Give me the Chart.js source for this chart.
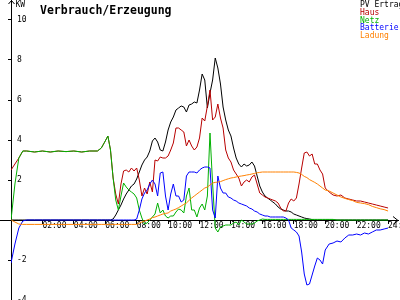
<!DOCTYPE html>
<html>
<head>
<meta charset="utf-8">
<script src="https://cdn.jsdelivr.net/npm/chart.js@4/dist/chart.umd.min.js"></script>
<style>
  html, body { margin: 0; padding: 0; background: #fff; }
  #wrap { width: 400px; height: 300px; }
</style>
</head>
<body>
<div id="wrap"><canvas id="chart" width="400" height="300"></canvas></div>
<script>
// minutes of the day
const times = [0, 15, 30, 45, 60, 90, 120, 150, 180, 210, 240, 270, 300, 330, 345,
  360, 370, 380, 390, 400, 410, 420, 430, 440, 450,
  460, 470, 480, 490, 500, 510, 520, 530, 540, 550,
  560, 570, 580, 590, 600, 610, 620, 630, 640, 650,
  660, 670, 680, 690, 700, 710, 720, 730, 740, 750,
  760, 770, 780, 790, 800, 810, 820, 830, 840, 850,
  860, 870, 880, 890, 900, 910, 920, 930, 940, 950,
  960, 970, 980, 990, 1000, 1010, 1020, 1030, 1040, 1050,
  1060, 1070, 1080, 1090, 1100, 1110, 1120, 1130, 1140, 1150,
  1160, 1170, 1180, 1190, 1200,
  1215, 1230, 1245, 1260, 1275, 1290, 1305, 1320, 1335, 1350, 1365, 1380, 1395, 1410, 1425, 1440];

const pvErtrag = [0, 0, 0, 0, 0, 0, 0, 0, 0, 0, 0, 0, 0, 0, 0,
  0, 0, 0, 0.05, 0.25, 0.5, 0.75, 1.05, 1.3, 1.5,
  1.7, 1.8, 2.05, 2.4, 2.75, 3.0, 3.15, 3.45, 3.95, 4.1,
  3.9, 3.5, 3.45, 3.9, 4.5, 4.9, 5.15, 5.5, 5.6, 5.7,
  5.65, 5.4, 5.75, 5.8, 5.9, 5.85, 6.5, 7.3, 7.0, 5.6,
  6.35, 7.0, 8.1, 7.6, 6.8, 5.65, 5.0, 4.5, 4.2, 3.6,
  3.1, 2.8, 2.65, 2.8, 2.7, 2.75, 2.9, 2.7, 2.2, 1.7,
  1.4, 1.2, 1.1, 1.0, 0.9, 0.8, 0.65, 0.55, 0.5, 0.45,
  0.45, 0.4, 0.3, 0.25, 0.2, 0.15, 0.1, 0.07, 0.05, 0.02,
  0, 0, 0, 0, 0,
  0, 0, 0, 0, 0, 0, 0, 0, 0, 0, 0, 0, 0, 0, 0, 0];

const haus = [2.5, 2.8, 3.1, 3.45, 3.45, 3.4, 3.45, 3.4, 3.45, 3.42, 3.45, 3.4, 3.45, 3.45, 3.6,
  3.95, 4.2, 3.5, 2.1, 1.3, 0.8, 1.8, 2.45, 2.5, 2.4,
  2.6, 2.45, 2.6, 2.0, 1.2, 1.6, 1.3, 1.9, 1.4, 3.0,
  2.95, 3.15, 3.1, 3.1, 3.2, 3.5, 3.85, 4.6, 4.6, 4.5,
  4.4, 3.7, 4.0, 3.7, 3.5, 3.65, 4.1, 5.1, 4.95, 5.7,
  6.5, 5.0, 5.15, 5.8, 5.1, 4.6, 3.5, 3.1, 2.9, 2.5,
  2.3, 2.1, 1.7, 1.9, 2.0, 1.9, 2.15, 2.25, 1.8, 1.35,
  1.25, 1.15, 1.1, 1.05, 1.0, 0.95, 0.85, 0.6, 0.45, 0.45,
  0.85, 1.05, 0.95, 1.1, 1.8, 2.6, 3.35, 3.4, 3.2, 3.3,
  2.8, 2.8, 2.5, 2.3, 1.6,
  1.4, 1.25, 1.2, 1.25, 1.1, 1.05, 1.0, 0.95, 0.95, 0.9, 0.85, 0.8, 0.75, 0.7, 0.65, 0.6];

const netz = [0, 1.8, 3.1, 3.45, 3.45, 3.4, 3.45, 3.4, 3.45, 3.42, 3.45, 3.4, 3.45, 3.45, 3.6,
  3.95, 4.2, 3.5, 2.1, 1.0, 0.5, 1.2, 1.85, 1.65, 1.5,
  1.4, 1.3, 1.1, 0.5, 0.1, -0.2, -0.15, 0.0, 0.15, 0.3,
  0.85, 0.35, 0.5, 0.2, 0.1, 0.2, 0.2, 0.4, 0.55, 0.5,
  0.35, 1.2, 1.6, 0.5, 0.5, 0.15, 0.6, 0.8, 0.5, 1.2,
  4.35, 1.8, -0.4, -0.6, -0.35, -0.3, -0.25, -0.25, -0.25, -0.15,
  -0.1, -0.25, 0.0, -0.1, -0.2, -0.2, -0.2, -0.15, -0.05, 0.0,
  0.05, 0.03, 0.03, 0.03, 0.03, 0.03, 0.03, 0.03, 0.03, 0.03,
  0.03, 0.03, 0.03, 0.03, 0.03, 0.03, 0.03, 0.03, 0.03, 0.03,
  0.03, 0.03, 0.03, 0.03, 0.03,
  0.03, 0.03, 0, 0, 0, 0, 0, 0, 0, 0, 0, 0, 0, 0, 0, 0];

const batterie = [-2.15, -1.2, -0.4, -0.05, 0, 0, 0, 0, 0, 0, 0, 0, 0, 0, 0,
  0, 0, 0, 0, 0, 0, 0, 0, 0, 0,
  0, 0, 0.05, 0.5, 1.05, 1.35, 1.5, 1.8, 2.0, 1.8,
  1.2, 2.35, 2.4, 1.2, 0.5, 1.3, 1.8, 1.2, 1.2, 0.9,
  1.0, 2.2, 2.4, 2.4, 2.4, 2.35, 2.5, 2.6, 2.65, 2.65,
  2.6, 0.5, 0.1, 2.2, 1.6, 1.35, 1.35, 1.15, 1.1, 1.0,
  0.95, 0.85, 0.8, 0.75, 0.7, 0.6, 0.55, 0.45, 0.4, 0.3,
  0.25, 0.2, 0.2, 0.15, 0.15, 0.15, 0.15, 0.15, 0.15, 0.1,
  0.0, -0.4, -0.5, -0.6, -0.8, -1.6, -2.7, -3.25, -3.2, -2.75,
  -2.3, -1.9, -2.0, -2.2, -1.5,
  -1.2, -1.15, -1.05, -1.1, -0.9, -0.75, -0.75, -0.7, -0.75, -0.65, -0.7, -0.6, -0.5, -0.5, -0.45, -0.4];

const ladung = [0, -0.1, -0.2, -0.22, -0.22, -0.22, -0.22, -0.22, -0.22, -0.22, -0.22, -0.22, -0.22, -0.22, -0.22,
  -0.22, -0.22, -0.22, -0.22, -0.22, -0.22, -0.22, -0.22, -0.22, -0.22,
  -0.22, -0.22, -0.22, -0.15, -0.1, -0.05, 0.0, 0.05, 0.12, 0.15,
  0.2, 0.25, 0.3, 0.33, 0.35, 0.45, 0.5, 0.55, 0.62, 0.7,
  0.78, 0.85, 0.98, 1.1, 1.2, 1.3, 1.4, 1.5, 1.6, 1.65,
  1.75, 1.85, 1.88, 1.9, 1.92, 1.97, 2.02, 2.06, 2.1, 2.12,
  2.15, 2.18, 2.2, 2.22, 2.25, 2.27, 2.3, 2.33, 2.36, 2.38,
  2.4, 2.4, 2.4, 2.4, 2.4, 2.4, 2.4, 2.4, 2.4, 2.4,
  2.4, 2.4, 2.4, 2.38, 2.35, 2.28, 2.18, 2.12, 2.02, 1.95,
  1.88, 1.8, 1.7, 1.6, 1.5,
  1.45, 1.35, 1.25, 1.15, 1.08, 1.02, 0.97, 0.88, 0.85, 0.82, 0.77, 0.68, 0.62, 0.56, 0.52, 0.45];

const seriesNames = ['PV Ertrag', 'Haus', 'Netz', 'Batterie', 'Ladung'];
const seriesValues = [pvErtrag, haus, netz, batterie, ladung];
const seriesColors = ['#000000', '#b80000', '#00b000', '#0000ff', '#ff8000'];

// tick label per 2 hours (index = minutes / 120)
const xTickLabels = ['', '02:00', '04:00', '06:00', '08:00', '10:00', '12:00',
  '14:00', '16:00', '18:00', '20:00', '22:00', '24:00'];

const monoFont = '"DejaVu Sans Mono", "Liberation Mono", monospace';

// axis arrows, KW unit, title and the coloured legend text
const decorPlugin = {
  id: 'decor',
  afterDraw(chart) {
    const { ctx, scales: { x, y } } = chart;
    const x0 = Math.round(x.getPixelForValue(0)) + 0.5;
    const y0 = Math.round(y.getPixelForValue(0)) + 0.5;
    const right = chart.chartArea.right;
    ctx.save();
    ctx.strokeStyle = '#000';
    ctx.lineWidth = 1;
    ctx.beginPath();
    ctx.moveTo(0, y0); ctx.lineTo(x0, y0);
    ctx.moveTo(x0 - 3, 4); ctx.lineTo(x0, 0.5); ctx.lineTo(x0 + 3, 4);
    ctx.moveTo(right - 5, y0 - 4); ctx.lineTo(right, y0); ctx.lineTo(right - 5, y0 + 4);
    ctx.stroke();

    ctx.fillStyle = '#000';
    ctx.textBaseline = 'alphabetic';
    ctx.textAlign = 'left';
    ctx.font = '8px ' + monoFont;
    ctx.fillText('KW', x0 + 4, 7);

    ctx.font = 'bold 11.5px ' + monoFont;
    ctx.fillText('Verbrauch/Erzeugung', 40, 14);

    ctx.font = '8px ' + monoFont;
    seriesNames.forEach((name, i) => {
      ctx.fillStyle = seriesColors[i];
      ctx.fillText(name, 360, 7 + i * 7.75);
    });
    ctx.restore();
  }
};

const ctx = document.getElementById('chart').getContext('2d');
const chart = new Chart(ctx, {
  type: 'line',
  data: {
    datasets: seriesNames.map((name, i) => ({
      label: name,
      data: times.map((t, j) => ({ x: t, y: seriesValues[i][j] })),
      borderColor: seriesColors[i],
      backgroundColor: seriesColors[i],
      borderWidth: 1,
      pointRadius: 0,
      tension: 0,
      fill: false,
      order: seriesNames.length - i
    }))
  },
  options: {
    responsive: false,
    animation: false,
    layout: { padding: { left: -4, right: 2, top: 0, bottom: 0 } },
    plugins: {
      legend: { display: false },
      title: { display: false },
      tooltip: { enabled: false }
    },
    scales: {
      x: {
        type: 'linear',
        min: 0,
        max: 1478,
        position: { y: 0 },
        grid: { drawOnChartArea: false, tickLength: 3, color: '#000' },
        border: { color: '#000', width: 1 },
        ticks: {
          stepSize: 120,
          includeBounds: false,
          autoSkip: false,
          maxRotation: 0,
          align: 'start',
          padding: -1,
          color: '#000',
          font: { family: monoFont, size: 8, lineHeight: 1 },
          callback: (v) => xTickLabels[v / 120] ?? ''
        },
        afterFit: (s) => { s.paddingLeft = 0; s.paddingRight = 0; }
      },
      y: {
        type: 'linear',
        min: -4,
        max: 11,
        position: 'left',
        grid: { drawOnChartArea: false, tickLength: 3, color: '#000' },
        border: { color: '#000', width: 1 },
        ticks: {
          stepSize: 2,
          includeBounds: false,
          mirror: true,
          padding: 6,
          color: '#000',
          font: { family: monoFont, size: 8 },
          callback: (v) => v === 0 ? '' : String(v)
        },
        afterFit: (s) => { s.paddingTop = 0; s.paddingBottom = 0; }
      }
    }
  },
  plugins: [decorPlugin]
});
</script>
</body>
</html>
